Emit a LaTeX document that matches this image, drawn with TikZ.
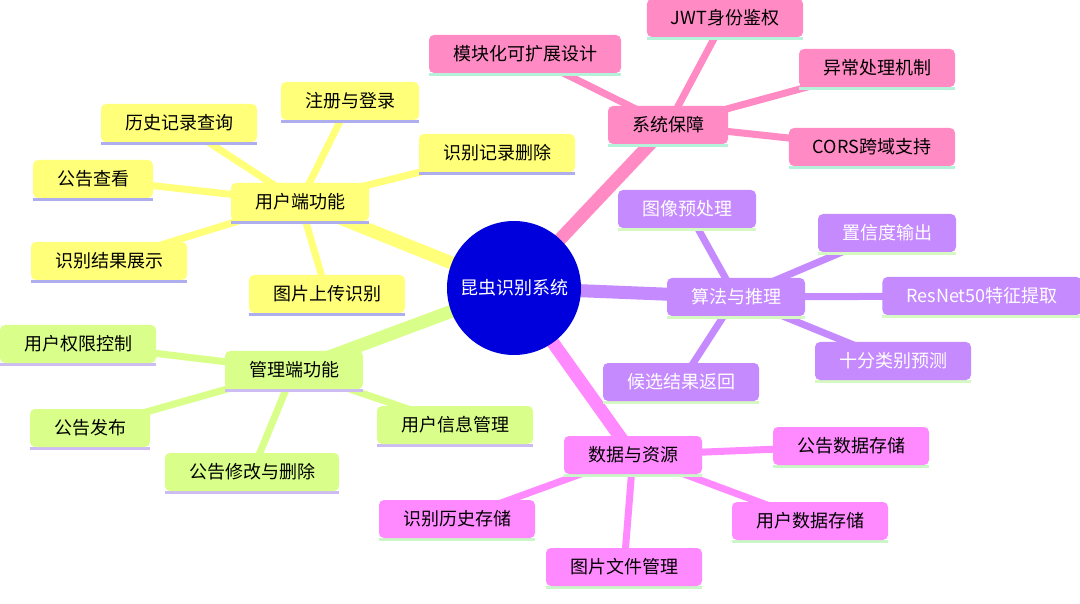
\documentclass[tikz,border=0pt]{standalone}
\usepackage{fontspec}
\setmainfont{Noto Sans CJK SC}
\usepackage{xcolor}
\usepackage{tikz}
\usetikzlibrary{backgrounds}

\definecolor{rootblue}{HTML}{0000DD}
\definecolor{userfill}{HTML}{FFFF7A}
\definecolor{userline}{HTML}{AEAEEE}
\definecolor{sysfill}{HTML}{FF8AC4}
\definecolor{sysline}{HTML}{B6F2DA}
\definecolor{algofill}{HTML}{C68AFF}
\definecolor{algoline}{HTML}{D6F8C2}
\definecolor{datafill}{HTML}{FF8AFF}
\definecolor{dataline}{HTML}{CAF6C8}
\definecolor{adminfill}{HTML}{D9FF8A}
\definecolor{adminline}{HTML}{CDBBF4}

\tikzset{
  box/.style 2 args={rectangle, rounded corners=5pt, fill=#1,
    minimum height=38pt, inner xsep=24pt, inner ysep=4pt,
    font=\fontsize{18}{22}\selectfont,
    append after command={\pgfextra{
      \draw[line width=3pt, draw=#2, sharp corners]
        ([yshift=-1pt]\tikzlastnode.south west) -- ([yshift=-1pt]\tikzlastnode.south east);}}},
  ubox/.style={box={userfill}{userline}},
  sbox/.style={box={sysfill}{sysline}},
  abox/.style={box={algofill}{algoline}, text=white},
  dbox/.style={box={datafill}{dataline}},
  mbox/.style={box={adminfill}{adminline}},
  trunk/.style={line width=13pt, draw=#1},
  twig/.style={line width=7pt, draw=#1},
}

\begin{document}
\begin{tikzpicture}[x=1pt, y=-1pt]
\useasboundingbox (0,0) rectangle (1080,604);

% centre
\node[circle, fill=rootblue, text=white, minimum size=134pt, inner sep=0pt,
  font=\fontsize{18}{22}\selectfont] (root) at (514,288) {昆虫识别系统};

% branches
\node[ubox] (user)  at (300,202) {用户端功能};
\node[sbox] (sys)   at (668,125) {系统保障};
\node[abox] (algo)  at (736,297) {算法与推理};
\node[dbox] (data)  at (633,455) {数据与资源};
\node[mbox] (admin) at (294,370) {管理端功能};

% user side
\node[ubox] (u-login)  at (350,101) {注册与登录};
\node[ubox] (u-hist)   at (179,123) {历史记录查询};
\node[ubox] (u-notice) at (93,179)  {公告查看};
\node[ubox] (u-del)    at (497,153) {识别记录删除};
\node[ubox] (u-show)   at (109,261) {识别结果展示};
\node[ubox] (u-upload) at (327,294) {图片上传识别};

% system
\node[sbox] (s-jwt)  at (725,18)  {JWT身份鉴权};
\node[sbox] (s-mod)  at (525,54)  {模块化可扩展设计};
\node[sbox] (s-err)  at (877,68)  {异常处理机制};
\node[sbox] (s-cors) at (872,147) {CORS跨域支持};

% algorithm
\node[abox] (a-pre)  at (687,209) {图像预处理};
\node[abox] (a-conf) at (887,233) {置信度输出};
\node[abox] (a-res)  at (982,296) {ResNet50特征提取};
\node[abox] (a-cls)  at (893,361) {十分类别预测};
\node[abox] (a-cand) at (681,382) {候选结果返回};

% data
\node[dbox] (d-notice) at (851,446) {公告数据存储};
\node[dbox] (d-user)   at (810,521) {用户数据存储};
\node[dbox] (d-img)    at (624,567) {图片文件管理};
\node[dbox] (d-hist)   at (457,519) {识别历史存储};

% admin side
\node[mbox] (m-perm) at (78,344)  {用户权限控制};
\node[mbox] (m-pub)  at (90,428)  {公告发布};
\node[mbox] (m-edit) at (252,472) {公告修改与删除};
\node[mbox] (m-info) at (455,425) {用户信息管理};

\begin{scope}[on background layer]
\fill[white] (0,0) rectangle (1080,604);
\draw[trunk=userfill]  (root.center) -- (user.center);
\draw[trunk=sysfill]   (root.center) -- (sys.center);
\draw[trunk=algofill]  (root.center) -- (algo.center);
\draw[trunk=datafill]  (root.center) -- (data.center);
\draw[trunk=adminfill] (root.center) -- (admin.center);
\foreach \n in {u-login,u-hist,u-notice,u-del,u-show,u-upload}
  \draw[twig=userfill] (user.center) -- (\n.center);
\foreach \n in {s-jwt,s-mod,s-err,s-cors}
  \draw[twig=sysfill] (sys.center) -- (\n.center);
\foreach \n in {a-pre,a-conf,a-res,a-cls,a-cand}
  \draw[twig=algofill] (algo.center) -- (\n.center);
\foreach \n in {d-notice,d-user,d-img,d-hist}
  \draw[twig=datafill] (data.center) -- (\n.center);
\foreach \n in {m-perm,m-pub,m-edit,m-info}
  \draw[twig=adminfill] (admin.center) -- (\n.center);
\end{scope}
\end{tikzpicture}
\end{document}
